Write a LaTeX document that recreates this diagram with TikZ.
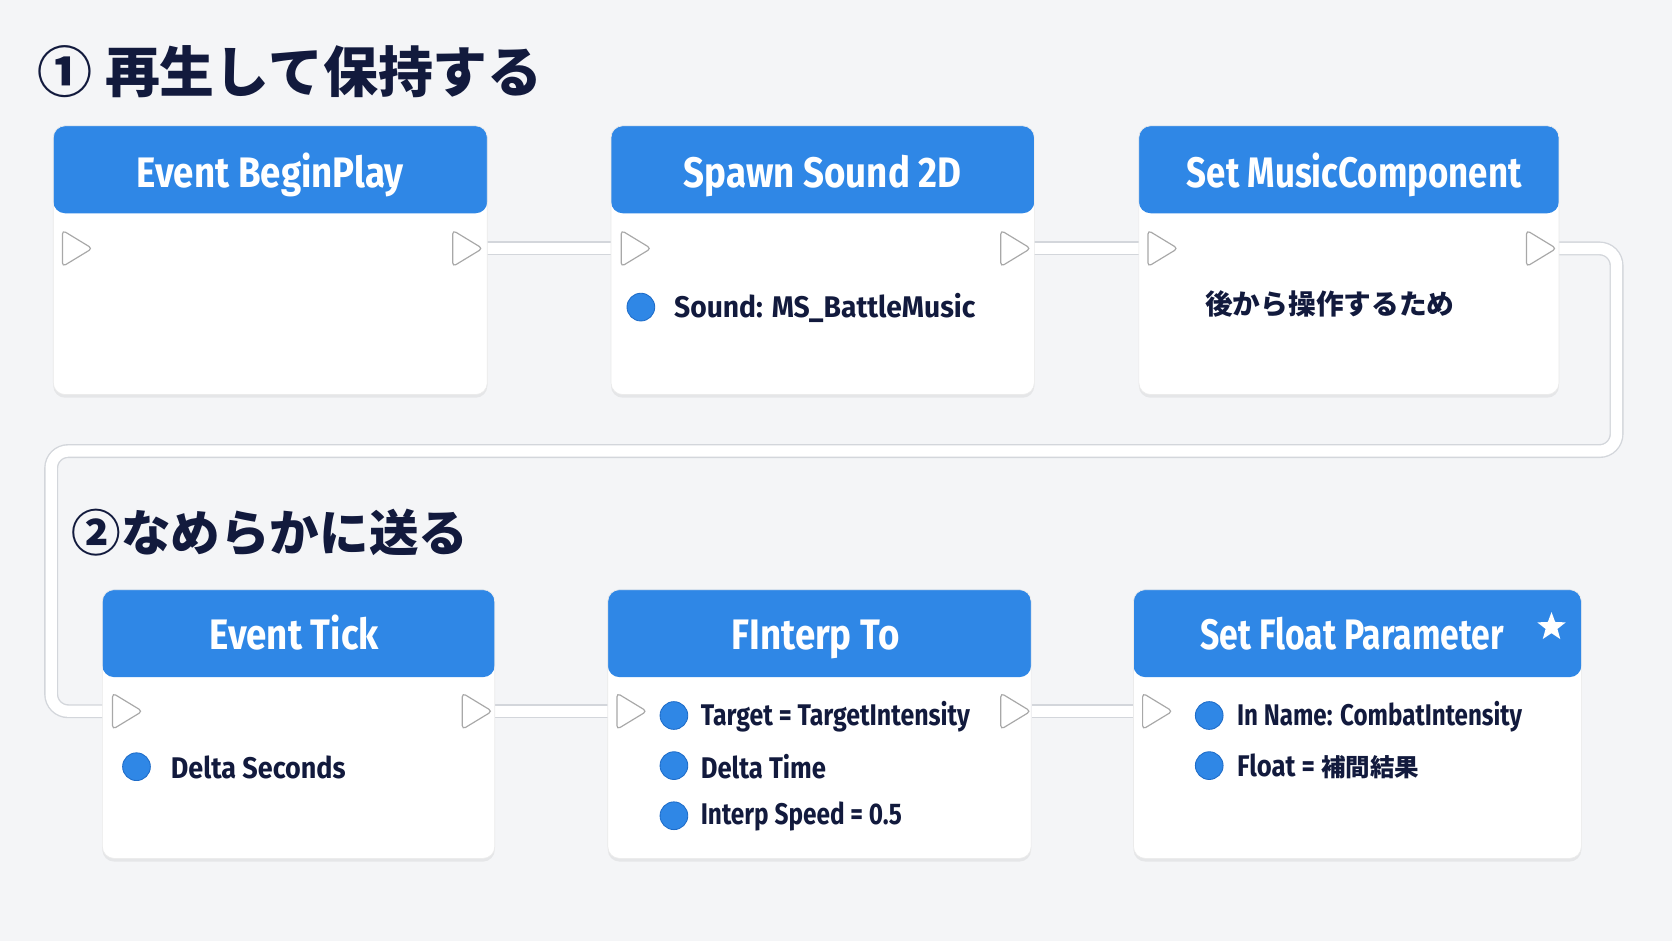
\documentclass[tikz,border=0pt]{standalone}
\usepackage{fontspec}
\usepackage{graphicx}
\usetikzlibrary{shapes.geometric,shadows}
\newfontfamily\latinf{Fira Sans}[FakeStretch=0.86]
\newfontfamily\cjk{Noto Sans CJK JP}
\definecolor{bgc}{HTML}{F4F5F7}
\definecolor{hdr}{HTML}{2F87E6}
\definecolor{navy}{HTML}{121A3D}
\definecolor{pingrey}{HTML}{A8A8A8}
\definecolor{wireedge}{HTML}{D3D6DB}
\definecolor{dotedge}{HTML}{1E6CC8}
\pgfdeclarelayer{canvas}
\pgfdeclarelayer{bg}
\pgfsetlayers{canvas,bg,main}
\tikzset{
  nodebox/.style={draw=black!8, line width=0.6pt, fill=white, rounded corners=11pt,
    drop shadow={opacity=0.12, shadow xshift=0pt, shadow yshift=-3pt},
    path picture={\fill[hdr] (path picture bounding box.north west) rectangle ([yshift=-82pt]path picture bounding box.north east);}},
  hdrtext/.style={text=white, font=\latinf\bfseries\fontsize{40}{44}\selectfont, inner sep=0pt, anchor=base},
  pintext/.style={text=navy, font=\latinf\bfseries\fontsize{28}{32}\selectfont, anchor=west, inner sep=0pt},
  jtext/.style={text=navy, font=\cjk\bfseries\fontsize{26}{30}\selectfont, anchor=west, inner sep=0pt},
  execpin/.style={isosceles triangle, isosceles triangle stretches, minimum width=34pt, minimum height=28pt,
    inner sep=0pt, fill=white, draw=pingrey, line width=1.1pt, rounded corners=3.5pt, anchor=west},
  datapin/.style={circle, minimum size=26pt, inner sep=0pt, fill=hdr, draw=dotedge, line width=0.8pt},
  wire/.style={draw=wireedge, line width=1.3pt, double=white, double distance=10.5pt},
  titletext/.style={text=navy, font=\cjk\bfseries, anchor=west, inner sep=0pt},
}
\begin{document}
\begin{tikzpicture}[x=1pt,y=-1pt]
\begin{pgfonlayer}{canvas}
\fill[bgc] (0,0) rectangle (1568,882);
\end{pgfonlayer}
\useasboundingbox (0,0) rectangle (1568,882);

% titles
\node[titletext, font=\cjk\bfseries\fontsize{51.5}{56}\selectfont] (t1) at (35,67) {① 再生して保持する};
\node[titletext, font=\cjk\bfseries\fontsize{46.5}{50}\selectfont] (t2) at (67,500) {②なめらかに送る};

% row 1 boxes
\node[nodebox, minimum width=407pt, minimum height=252pt] (A) at (253.5,244) {};
\node[hdrtext] (A-t) at (253.5,176) {Event BeginPlay};
\node[nodebox, minimum width=397pt, minimum height=252pt] (B) at (771.5,244) {};
\node[hdrtext] (B-t) at (771.5,176) {Spawn Sound 2D};
\node[nodebox, minimum width=394pt, minimum height=252pt] (C) at (1265,244) {};
\node[hdrtext] (C-t) at (1270,176) {\scalebox{0.95}[1]{Set MusicComponent}};

% row 2 boxes
\node[nodebox, minimum width=368pt, minimum height=252pt] (D) at (280,679) {};
\node[hdrtext] (D-t) at (276,609) {Event Tick};
\node[nodebox, minimum width=397pt, minimum height=252pt] (E) at (768.5,679) {};
\node[hdrtext] (E-t) at (765,609) {FInterp To};
\node[nodebox, minimum width=420pt, minimum height=252pt] (F) at (1273,679) {};
\node[hdrtext] (F-t) at (1268,609) {\scalebox{0.92}[1]{Set Float Parameter}};
\node[star, star points=5, star point ratio=2.4, fill=white, minimum size=28pt, inner sep=0pt] (F-star) at (1455,588) {};

% exec pins
\node[execpin] (A-in)  at (58,233) {};
\node[execpin] (A-out) at (424,233) {};
\node[execpin] (B-in)  at (582,233) {};
\node[execpin] (B-out) at (938,233) {};
\node[execpin] (C-in)  at (1076,233) {};
\node[execpin] (C-out) at (1431,233) {};
\node[execpin] (D-in)  at (105,667) {};
\node[execpin] (D-out) at (433,667) {};
\node[execpin] (E-in)  at (578,667) {};
\node[execpin] (E-out) at (938,667) {};
\node[execpin] (F-in)  at (1071,667) {};

% data pins and labels
\node[datapin] (B-d1) at (601,288) {};
\node[pintext] (B-l1) at (632,289) {\scalebox{1.1}[1]{Sound: MS\_BattleMusic}};
\node[jtext] (C-l1) at (1130,285) {後から操作するため};

\node[datapin] (D-d1) at (128,719) {};
\node[pintext] (D-l1) at (160,720) {\scalebox{1.05}[1]{Delta Seconds}};

\node[datapin] (E-d1) at (632,671) {};
\node[pintext] (E-l1) at (657,672) {\scalebox{0.97}[1]{Target = TargetIntensity}};
\node[datapin] (E-d2) at (632,718) {};
\node[pintext] (E-l2) at (657,719) {Delta Time};
\node[datapin] (E-d3) at (632,765) {};
\node[pintext] (E-l3) at (657,766) {\scalebox{0.95}[1]{Interp Speed = 0.5}};

\node[datapin] (F-d1) at (1134,671) {};
\node[pintext] (F-l1) at (1160,672) {\scalebox{0.94}[1]{In Name: CombatIntensity}};
\node[datapin] (F-d2) at (1134,718) {};
\node[pintext] (F-l2) at (1160,719) {Float = {\cjk\bfseries\fontsize{23}{26}\selectfont 補間結果}};

% wires
\coordinate (lr) at (1516,423);
\coordinate (ll) at (48,423);
\begin{pgfonlayer}{bg}
\draw[wire] (A-out.east) -- (B-in.west);
\draw[wire] (B-out.east) -- (C-in.west);
\draw[wire, rounded corners=16pt] (C-out.east) -| (lr) -- (ll) |- (D-in.west);
\draw[wire] (D-out.east) -- (E-in.west);
\draw[wire] (E-out.east) -- (F-in.west);
\end{pgfonlayer}
\end{tikzpicture}
\end{document}
